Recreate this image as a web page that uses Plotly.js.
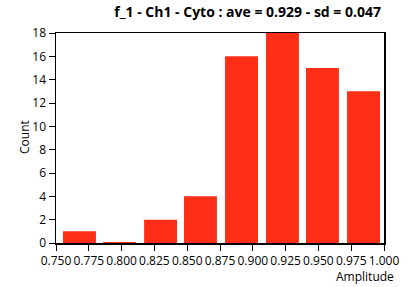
<!DOCTYPE html>
<html>
<head>
<meta charset="utf-8">
<script src="https://cdn.plot.ly/plotly-3.0.1.min.js"></script>
<style>html,body{margin:0;padding:0;background:#fff;}#chart{width:408px;height:287px;}</style>
</head>
<body>
<div id="chart"></div>
<script>
var binCenters = [0.7679, 0.7984, 0.8297, 0.8601, 0.8914, 0.9226, 0.9531, 0.9844];
var counts = [1, 0.08, 2, 4, 16, 18, 15, 13];
var xTickVals = [0.750, 0.775, 0.800, 0.825, 0.850, 0.875, 0.900, 0.925, 0.950, 0.975, 1.000];
var xTickText = ["0.750","0.775","0.800","0.825","0.850","0.875","0.900","0.925","0.950","0.975","1.000"];
var yTickVals = [0, 2, 4, 6, 8, 10, 12, 14, 16, 18];
var titleText = "f_1 - Ch1 - Cyto : ave = 0.929 - sd = 0.047";

var font = "Open Sans, Noto Sans, DejaVu Sans, sans-serif";
var plotL = 56, plotW = 328;
Plotly.newPlot('chart', [{
  type: 'bar',
  x: binCenters,
  y: counts,
  width: 0.0251,
  marker: {color: '#FF2E17', line: {width: 0}},
  hoverinfo: 'none'
}], {
  width: 408, height: 287,
  margin: {l: 56, r: 24, t: 33, b: 44, pad: 0},
  paper_bgcolor: '#fff', plot_bgcolor: '#fff',
  font: {family: font, size: 12, color: '#000'},
  showlegend: false,
  title: {text: titleText, font: {family: font, size: 14, color: '#000', weight: 'bold'},
          x: 381/408, xanchor: 'right', xref: 'container', y: 1 - 12/287, yanchor: 'middle', yref: 'container'},
  xaxis: {
    range: [0.75, 1.0], tickvals: xTickVals, ticktext: xTickText,
    ticks: 'outside', ticklen: 6, tickwidth: 1, tickcolor: '#000',
    showline: true, linecolor: '#000', linewidth: 1.5, mirror: true,
    showgrid: false, zeroline: false, fixedrange: true,
    tickfont: {size: 12, family: font, color: '#000'},
    title: {text: ''}
  },
  yaxis: {
    range: [0, 18], tickvals: yTickVals,
    ticks: 'outside', ticklen: 6, tickwidth: 1, tickcolor: '#000',
    showline: true, linecolor: '#000', linewidth: 1.5, mirror: true,
    showgrid: false, zeroline: false, fixedrange: true,
    tickfont: {size: 12, family: font, color: '#000'},
    title: {text: ''}
  },
  annotations: [{
    text: 'Amplitude', xref: 'paper', yref: 'paper',
    x: (396 - plotL) / plotW, y: 0, xanchor: 'right', yanchor: 'middle',
    yshift: -33, showarrow: false,
    font: {size: 12, family: font, color: '#000'}
  }, {
    text: 'Count', xref: 'paper', yref: 'paper',
    x: (24 - plotL) / plotW, y: (243.5 - 137) / 211, xanchor: 'center', yanchor: 'middle',
    textangle: -90, showarrow: false,
    font: {size: 12, family: font, color: '#000'}
  }]
}, {staticPlot: true, displayModeBar: false});
</script>
</body>
</html>
